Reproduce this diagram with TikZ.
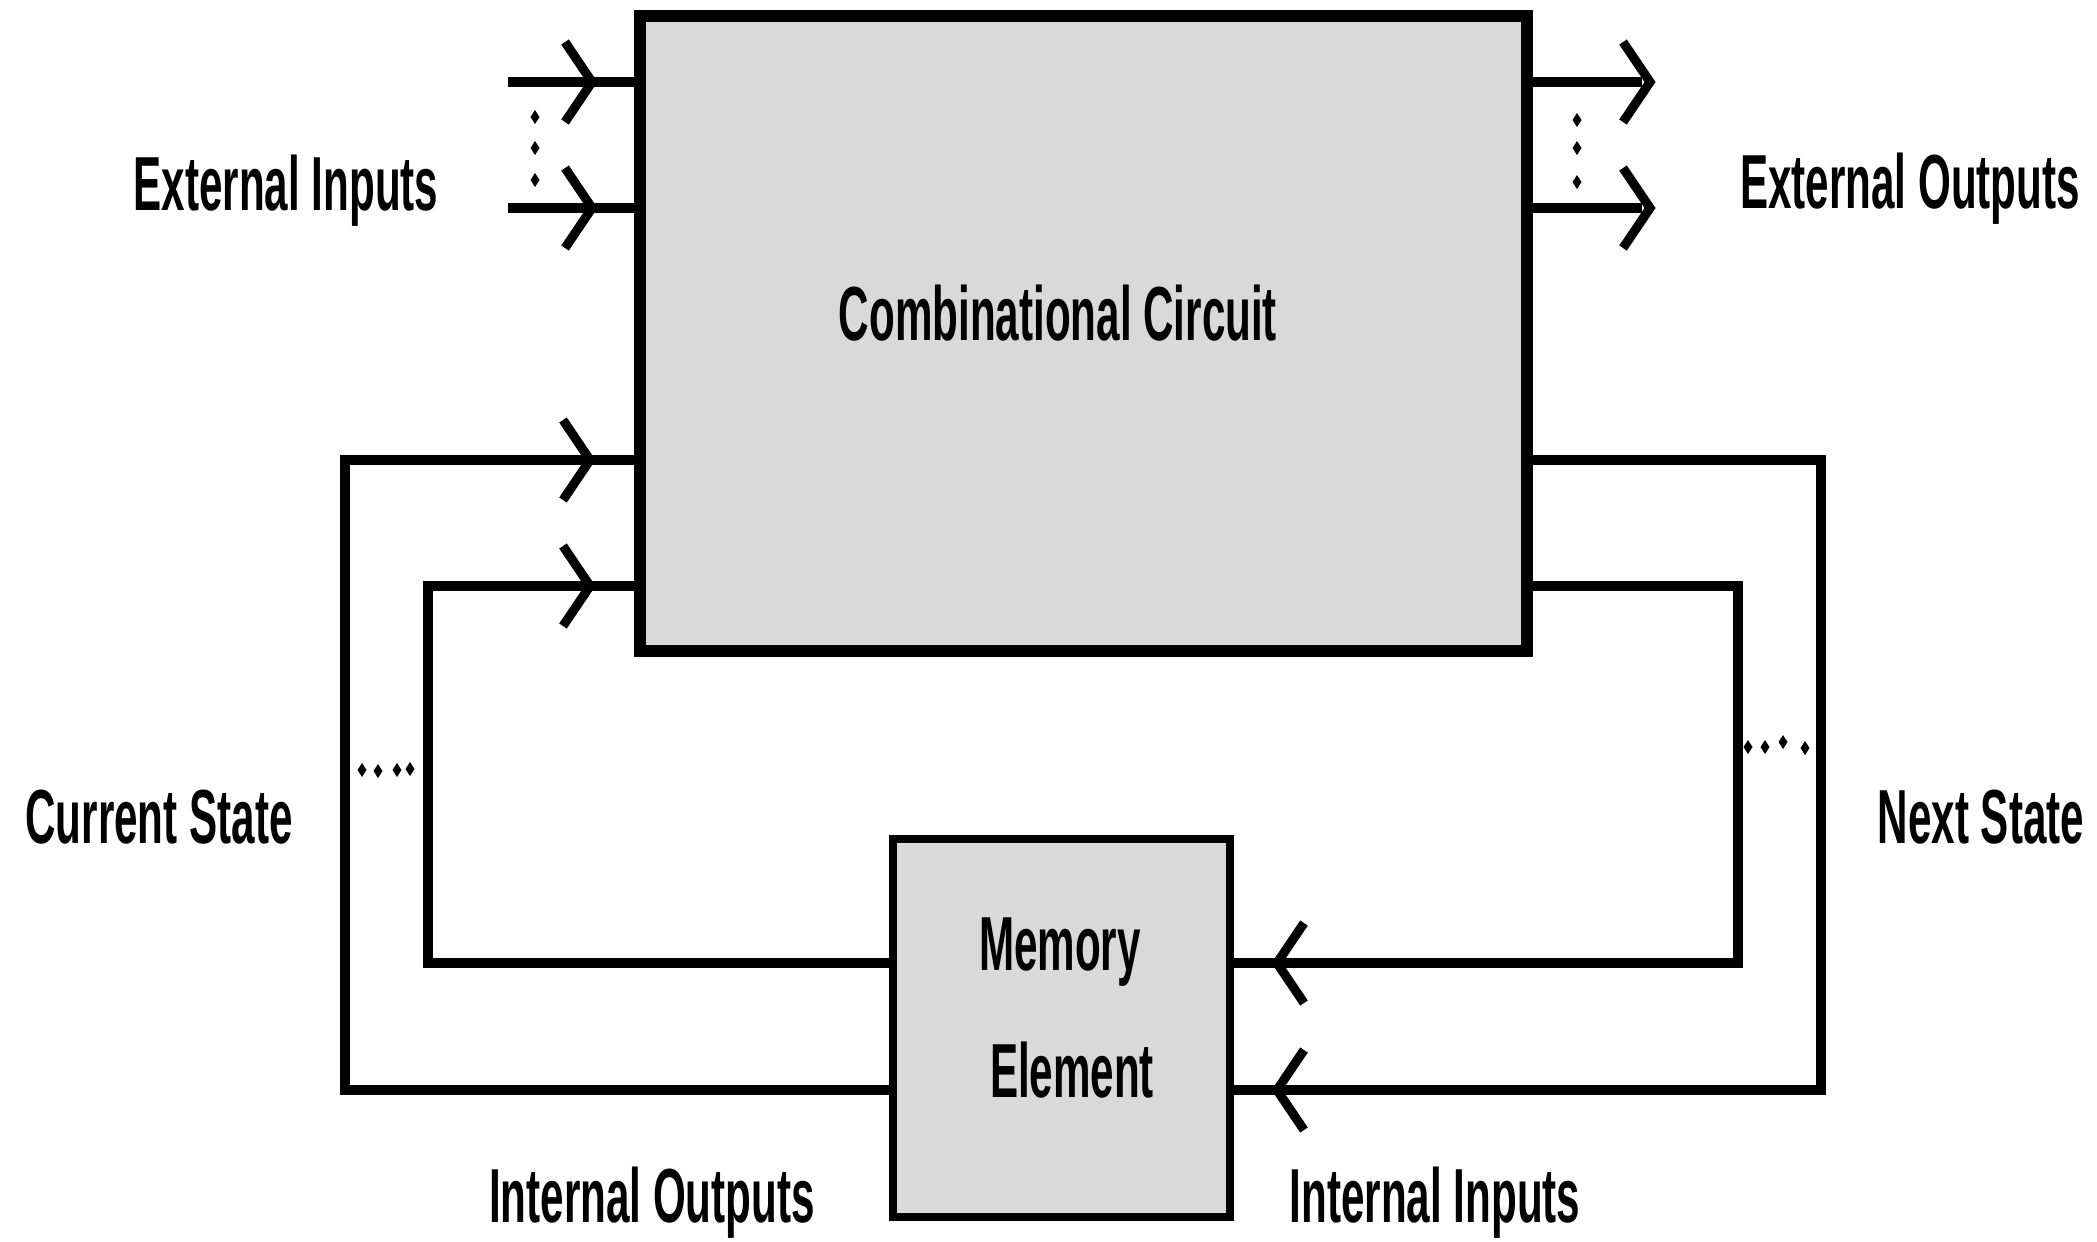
\documentclass[tikz,border=0pt]{standalone}
\usepackage{fontspec}
\newfontfamily\lblfont{Liberation Sans}[FakeStretch=0.55]
\usetikzlibrary{calc}
\definecolor{boxgray}{RGB}{217,217,217}
\newcommand\chevR[1]{\draw[chev] (#1) ++(-27,-40) -- (#1) -- ++(-27,40);}
\newcommand\chevL[1]{\draw[chev] (#1) ++(27,-40) -- (#1) -- ++(27,40);}
\begin{document}
\begin{tikzpicture}[x=0.01cm,y=-0.01cm,
  lbl/.style={font=\lblfont\bfseries\fontsize{21.8pt}{26pt}\selectfont, anchor=base, inner sep=0pt},
  wire/.style={line width=2.9pt, line join=miter},
  chev/.style={line width=2.6pt, line join=miter},
  blk/.style={draw, fill=boxgray, inner sep=0pt, outer sep=0pt}]
\useasboundingbox[fill=white] (0,0) rectangle (2097,1241);

% blocks
\node[blk, line width=3.3pt, minimum width=8.87cm, minimum height=6.35cm] (cc) at (1083.5,333.5) {};
\node[blk, line width=2.3pt, minimum width=3.37cm, minimum height=3.78cm] (mem) at (1061.5,1028) {};

% coordinates
\coordinate (ei1) at (508,82);
\coordinate (ei2) at (508,208);
\coordinate (eo1) at (1650,82);
\coordinate (eo2) at (1650,208);
\coordinate (LOb) at (345,1090);
\coordinate (LOt) at (345,460);
\coordinate (LIb) at (428,963);
\coordinate (LIt) at (428,586);
\coordinate (ROt) at (1821,460);
\coordinate (ROb) at (1821,1090);
\coordinate (RIt) at (1738,586);
\coordinate (RIb) at (1738,963);
\coordinate (tEI1) at (592,82);
\coordinate (tEI2) at (592,208);
\coordinate (tLO) at (590,460);
\coordinate (tLI) at (590,586);
\coordinate (tRO) at (1277,1090);
\coordinate (tRI) at (1277,963);

% external inputs
\draw[wire] (ei1) -- (ei1 -| cc.west);
\draw[wire] (ei2) -- (ei2 -| cc.west);
\chevR{tEI1}
\chevR{tEI2}

% external outputs
\draw[wire] (eo1 -| cc.east) -- ($(eo1)+(-8,0)$);
\draw[wire] (eo2 -| cc.east) -- ($(eo2)+(-8,0)$);
\chevR{eo1}
\chevR{eo2}

% feedback loops left (current state)
\draw[wire] (LOb -| mem.west) -- (LOb) -- (LOt) -- (LOt -| cc.west);
\draw[wire] (LIb -| mem.west) -- (LIb) -- (LIt) -- (LIt -| cc.west);
\chevR{tLO}
\chevR{tLI}

% feedback loops right (next state)
\draw[wire] (ROt -| cc.east) -- (ROt) -- (ROb) -- (ROb -| mem.east);
\draw[wire] (RIt -| cc.east) -- (RIt) -- (RIb) -- (RIb -| mem.east);
\chevL{tRO}
\chevL{tRI}

% dots
\foreach \x/\y in {535/117,535/148,535/180,1577/120,1577/148,1577/182,
                   362/770,378/771,397/770,410/769,
                   1748/747,1765/747,1783/742,1805/748}
  \fill (\x,\y) ++(0,-7) -- ++(4.5,7) -- ++(-4.5,7) -- ++(-4.5,-7) -- cycle;

% labels
\node[lbl] (extin) at (286,210) {External Inputs};
\node[lbl] (ccname) at (1058,340) {Combinational Circuit};
\node[lbl] (extout) at (1910,208) {External Outputs};
\node[lbl] (cur) at (159,843) {Current State};
\node[lbl] (nxt) at (1981,843) {Next State};
\node[lbl] (memt) at (1060,970) {Memory};
\node[lbl] (elt) at (1072,1097) {Element};
\node[lbl] (intout) at (652,1222) {Internal Outputs};
\node[lbl] (intin) at (1435,1222) {Internal Inputs};
\end{tikzpicture}
\end{document}
